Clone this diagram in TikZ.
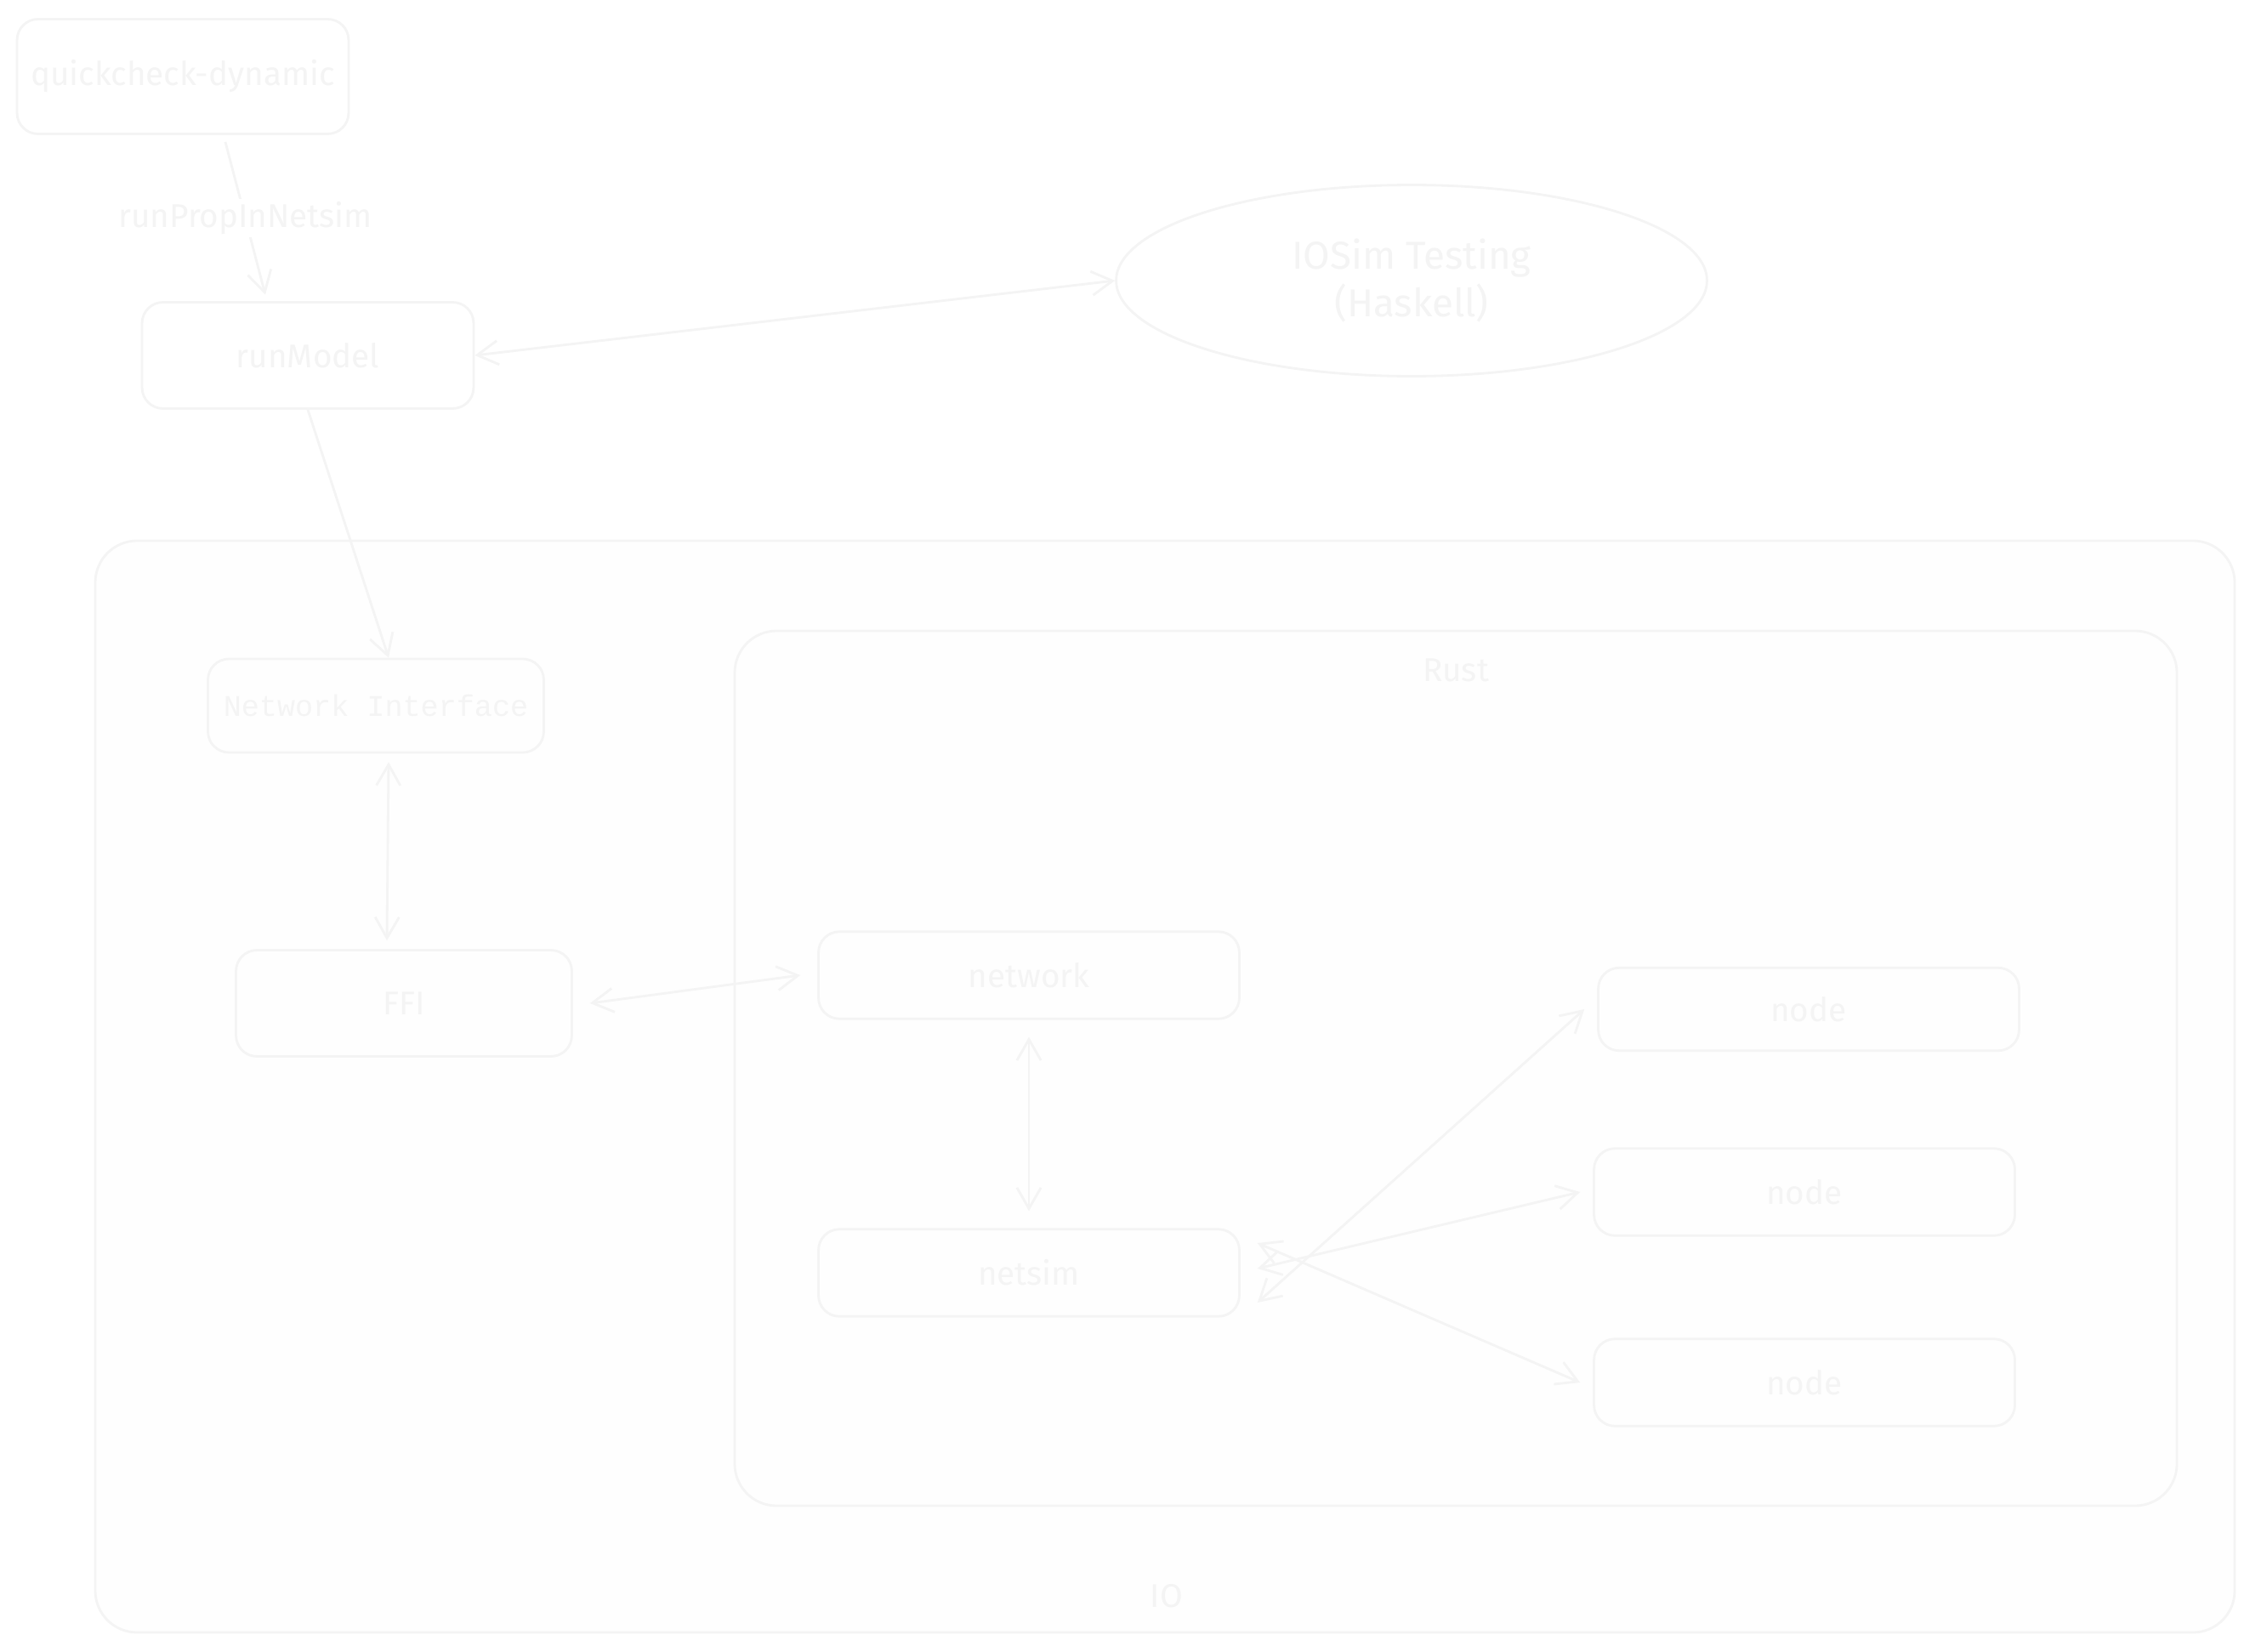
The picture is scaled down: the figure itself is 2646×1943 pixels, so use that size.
\documentclass[tikz,border=0pt]{standalone}
\usepackage{fontspec}
\setmainfont{Fira Sans}
\newfontfamily\monof{Liberation Mono}
\usetikzlibrary{arrows.meta,shapes.geometric}
\definecolor{ink}{gray}{0.955}
\definecolor{txt}{gray}{0.955}
\definecolor{paper}{gray}{0.995}
\begin{document}
\begin{tikzpicture}[x=0.02cm,y=-0.02cm,
  box/.style={draw=ink,line width=1.6pt,rounded corners=14pt,text=txt,font=\fontsize{22}{26}\selectfont},
  frame/.style={draw=ink,line width=1.6pt,rounded corners=28pt},
  lbl/.style={text=txt,font=\fontsize{22}{26}\selectfont},
  arr/.style={draw=ink,line width=1.6pt,-{Straight Barb[length=14pt,width=16pt]}},
  darr/.style={draw=ink,line width=1.6pt,{Straight Barb[length=14pt,width=16pt]}-{Straight Barb[length=14pt,width=16pt]}}]
\useasboundingbox[fill=white] (0,0) rectangle (2646,1943);
% containers
\draw[frame,fill=paper] (112,636) rectangle (2628,1920);
\node[lbl] (io) at (1372,1877) {IO};
\draw[frame] (864,742) rectangle (2560,1771);
\node[lbl] (rust) at (1712,788) {Rust};
% boxes
\node[box,minimum width=7.8cm,minimum height=2.7cm] (qd) at (215,90) {quickcheck-dynamic};
\node[box,minimum width=7.8cm,minimum height=2.5cm] (rm) at (362,418) {runModel};
\node[draw=ink,line width=1.6pt,ellipse,minimum width=13.9cm,minimum height=4.5cm,text=txt,align=center,font=\fontsize{26}{32}\selectfont] (ios) at (1660,330) {IOSim Testing\\(Haskell)};
\node[box,font=\monof\fontsize{20}{24}\selectfont,minimum width=7.9cm,minimum height=2.2cm] (ni) at (442,830) {Network Interface};
\node[box,minimum width=7.9cm,minimum height=2.5cm] (ffi) at (475,1180) {FFI};
\node[box,minimum width=9.9cm,minimum height=2.05cm] (net) at (1210,1147) {network};
\node[box,minimum width=9.9cm,minimum height=2.05cm] (ns) at (1210,1497) {netsim};
\node[box,minimum width=9.9cm,minimum height=1.95cm] (n1) at (2127,1187) {node};
\node[box,minimum width=9.9cm,minimum height=2.05cm] (n2) at (2122,1402) {node};
\node[box,minimum width=9.9cm,minimum height=2.05cm] (n3) at (2122,1626) {node};
% connectors
\draw[arr] (qd.south) ++(50,8) coordinate (qs) -- node[lbl,fill=white,inner sep=2pt] (rp) {runPropInNetsim} ([xshift=-1.0cm,yshift=0.15cm]rm.north);
\draw[darr] (rm.east) -- (ios.west);
\draw[arr] (rm.south) -- ([xshift=0.3cm]ni.north);
\draw[darr] ([xshift=0.3cm,yshift=-0.2cm]ni.south) -- ([xshift=-0.4cm,yshift=0.2cm]ffi.north);
\draw[darr] ([xshift=0.4cm]ffi.east) -- ([xshift=-0.4cm]net.west);
\draw[darr] ([yshift=-0.4cm]net.south) -- ([yshift=0.4cm]ns.north);
\draw[darr] ([xshift=0.4cm,yshift=-0.7cm]ns.east) -- ([xshift=-0.3cm]n1.west);
\draw[darr] ([xshift=0.4cm,yshift=0.1cm]ns.east) -- ([xshift=-0.3cm]n2.west);
\draw[darr] ([xshift=0.4cm,yshift=0.7cm]ns.east) -- ([xshift=-0.3cm]n3.west);
\end{tikzpicture}
\end{document}
